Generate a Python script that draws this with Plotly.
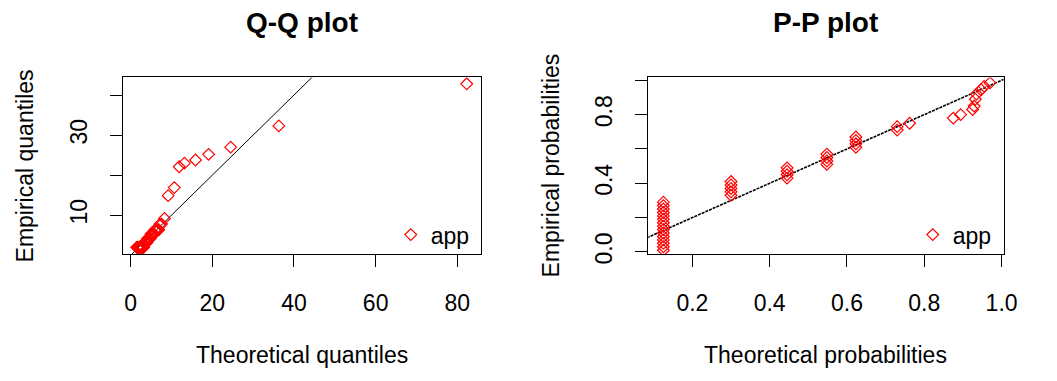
import plotly.graph_objects as go

# ---------------- data ----------------
# Q-Q plot: theoretical vs empirical quantiles (tied empirical values form the steps)
qq_theoretical = [1.5, 1.6, 1.7, 1.8, 1.9, 2.0, 2.1, 2.2, 2.35, 2.5, 2.6, 2.75, 2.9, 3.05, 3.2,
                  3.4, 3.55, 3.7, 3.85, 4.0,
                  4.2, 4.4, 4.6, 4.8,
                  5.0, 5.25, 5.5, 5.75,
                  6.0, 6.3, 6.6, 6.9,
                  7.2, 7.6,
                  8.3, 9.2, 10.7, 11.9, 13.2, 15.9, 19.1, 24.5, 36.3, 82.3]
qq_empirical = [2.0, 2.0, 2.0, 2.0, 2.0, 2.0, 2.0, 2.0, 2.0, 2.0, 2.0, 2.0, 2.0, 2.0, 2.0,
                3.2, 3.2, 3.2, 3.2, 3.2,
                4.2, 4.2, 4.2, 4.2,
                5.3, 5.3, 5.3, 5.3,
                6.4, 6.4, 6.4, 6.4,
                7.8, 7.8,
                9.2, 14.9, 16.9, 22.1, 23.0, 23.8, 25.2, 27.0, 32.3, 42.8]

# P-P plot: theoretical vs empirical probabilities
pp_theoretical = [0.125, 0.125, 0.125, 0.125, 0.125, 0.125, 0.125, 0.125, 0.125, 0.125,
                  0.125, 0.125, 0.125, 0.125, 0.125,
                  0.30, 0.30, 0.30, 0.30, 0.30,
                  0.445, 0.445, 0.445, 0.445,
                  0.548, 0.548, 0.548, 0.548,
                  0.623, 0.623, 0.623, 0.623,
                  0.73, 0.73,
                  0.762, 0.875, 0.894, 0.925, 0.929, 0.932, 0.935, 0.947, 0.955, 0.970]
pp_empirical = [0.01, 0.03, 0.05, 0.07, 0.09, 0.11, 0.13, 0.15, 0.17, 0.19,
                0.21, 0.23, 0.25, 0.27, 0.29,
                0.33, 0.35, 0.37, 0.39, 0.41,
                0.43, 0.45, 0.47, 0.49,
                0.51, 0.53, 0.55, 0.57,
                0.61, 0.63, 0.65, 0.67,
                0.71, 0.73,
                0.75, 0.78, 0.80, 0.83, 0.85, 0.89, 0.92, 0.945, 0.965, 0.985]

series_name = "app"
qq_xticks = [0, 20, 40, 60, 80]
qq_yticks = [10, 20, 30, 40]
qq_ytick_labels = ["10", "", "30", ""]
pp_xticks = [0.2, 0.4, 0.6, 0.8, 1.0]
pp_xtick_labels = ["0.2", "0.4", "0.6", "0.8", "1.0"]
pp_yticks = [0.0, 0.2, 0.4, 0.6, 0.8, 1.0]
pp_ytick_labels = ["0.0", "", "0.4", "", "0.8", ""]
identity_line = [-10, 200]

# ---------------- figure ----------------
W, H = 1057, 381
FONT = "Liberation Sans, Arial, sans-serif"
FS = 23

def px_x(p):
    return p / W

def px_y(p):
    return 1 - p / H

QQ_L, QQ_R = 125.0, 487.5
PP_L, PP_R = 657.0, 1017.0
BOX_T, BOX_B = 79.5, 261.0

fig = go.Figure()
marker = dict(symbol="diamond-open", size=9, color="#ff0000", line=dict(width=1.2, color="#ff0000"))

fig.add_trace(go.Scatter(x=identity_line, y=identity_line, mode="lines",
                         line=dict(color="black", width=1), showlegend=False,
                         xaxis="x", yaxis="y", hoverinfo="skip"))
fig.add_trace(go.Scatter(x=qq_theoretical, y=qq_empirical, mode="markers", name=series_name,
                         marker=marker, xaxis="x", yaxis="y", legend="legend"))
fig.add_trace(go.Scatter(x=identity_line, y=identity_line, mode="lines",
                         line=dict(color="black", width=1.6, dash="3px,1px"), showlegend=False,
                         xaxis="x2", yaxis="y2", hoverinfo="skip"))
fig.add_trace(go.Scatter(x=pp_theoretical, y=pp_empirical, mode="markers", name=series_name,
                         marker=marker, xaxis="x2", yaxis="y2", legend="legend2"))

ydom = [px_y(BOX_B), px_y(BOX_T)]
axis_common = dict(showline=True, mirror=True, linecolor="black", linewidth=1,
                   ticks="outside", ticklen=12, tickwidth=1, tickcolor="black",
                   showgrid=False, zeroline=False, tickmode="array",
                   tickfont=dict(family=FONT, size=FS, color="black"))

legend_common = dict(xanchor="left", yanchor="middle", bgcolor="rgba(0,0,0,0)", borderwidth=0,
                     font=dict(family=FONT, size=FS, color="black"))

fig.update_layout(
    width=W, height=H, autosize=False,
    margin=dict(l=0, r=0, t=0, b=0),
    paper_bgcolor="white", plot_bgcolor="white",
    font=dict(family=FONT, size=FS, color="black"),
    xaxis=dict(domain=[px_x(QQ_L), px_x(QQ_R)], range=[-1.77, 85.8], anchor="y",
               tickvals=qq_xticks, ticktext=[str(v) for v in qq_xticks],
               ticklabelstandoff=16, **axis_common),
    yaxis=dict(domain=ydom, range=[0.3, 44.4], anchor="x",
               tickvals=qq_yticks, ticktext=qq_ytick_labels, tickangle=-90,
               ticklabelstandoff=14, **axis_common),
    xaxis2=dict(domain=[px_x(PP_L), px_x(PP_R)], range=[0.086, 1.005], anchor="y2",
                tickvals=pp_xticks, ticktext=pp_xtick_labels,
                ticklabelstandoff=16, **axis_common),
    yaxis2=dict(domain=ydom, range=[-0.013, 1.017], anchor="x2",
                tickvals=pp_yticks, ticktext=pp_ytick_labels, tickangle=-90,
                ticklabelstandoff=14, **axis_common),
    legend=dict(x=px_x(396), y=px_y(241), **legend_common),
    legend2=dict(x=px_x(925), y=px_y(241), **legend_common),
    showlegend=True,
)

qq_c = (QQ_L + QQ_R) / 2
pp_c = (PP_L + PP_R) / 2
ymid = (BOX_T + BOX_B) / 2
ann = [
    dict(text="<b>Q-Q plot</b>", x=px_x(qq_c), y=px_y(23), font=dict(size=28)),
    dict(text="<b>P-P plot</b>", x=px_x(pp_c), y=px_y(23), font=dict(size=28)),
    dict(text="Theoretical quantiles", x=px_x(qq_c), y=px_y(365)),
    dict(text="Theoretical probabilities", x=px_x(pp_c), y=px_y(365)),
    dict(text="Empirical quantiles", x=px_x(25), y=px_y(ymid), textangle=-90),
    dict(text="Empirical probabilities", x=px_x(PP_L - 99), y=px_y(ymid), textangle=-90),
]
for a in ann:
    size = a.get("font", {}).get("size", FS)
    a.update(xref="paper", yref="paper", showarrow=False, xanchor="center", yanchor="middle",
             font=dict(family=FONT, size=size, color="black"))
fig.update_layout(annotations=ann)

fig.write_html(
    "out.html",
    config={"displayModeBar": False, "responsive": False},
    post_script="document.body.style.margin='0';document.body.style.overflow='hidden';"
                "document.documentElement.style.overflow='hidden';",
)
